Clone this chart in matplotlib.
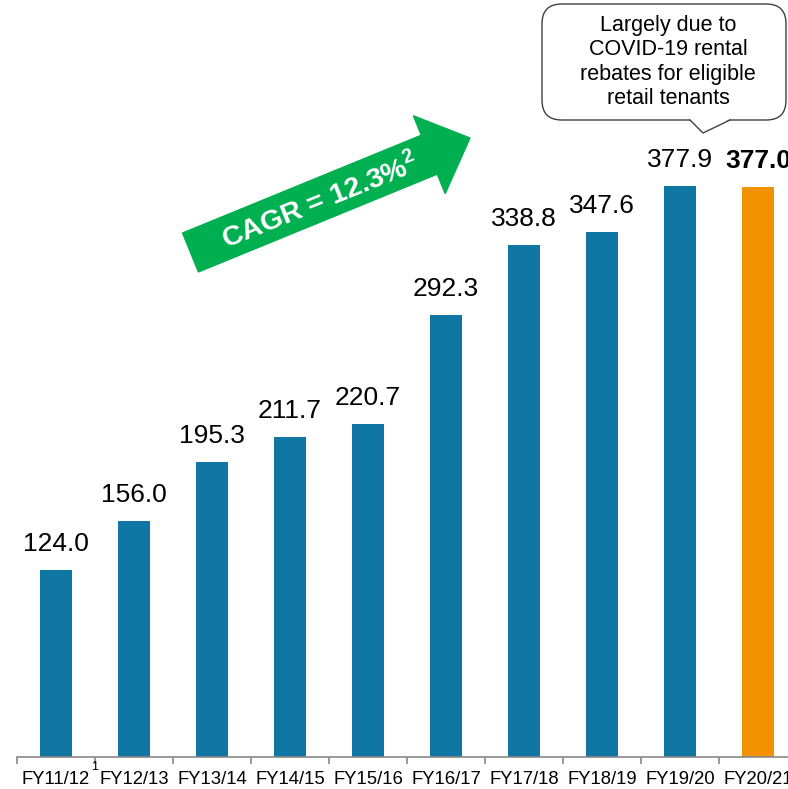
import matplotlib.pyplot as plt
from matplotlib.patches import FancyArrow, FancyBboxPatch, Polygon
from matplotlib.lines import Line2D

plt.rcParams['font.family'] = ['Liberation Sans', 'DejaVu Sans']
plt.rcParams['mathtext.fontset'] = 'custom'
plt.rcParams['mathtext.rm'] = 'Liberation Sans'
plt.rcParams['mathtext.bf'] = 'Liberation Sans:bold'

years = ['FY11/12', 'FY12/13', 'FY13/14', 'FY14/15', 'FY15/16',
         'FY16/17', 'FY17/18', 'FY18/19', 'FY19/20', 'FY20/21']
revenue = [124.0, 156.0, 195.3, 211.7, 220.7, 292.3, 338.8, 347.6, 377.9, 377.0]
blue = '#1077a4'
orange = '#f39200'
colors = [blue] * 9 + [orange]

W, H = 788, 789
fig = plt.figure(figsize=(W / 100, H / 100), dpi=100)
ax = fig.add_axes([17 / W, 32 / H, (W - 17) / W, 757 / H])

x = list(range(len(years)))
ax.bar(x, revenue, width=0.4, color=colors, zorder=2)

for i, v in enumerate(revenue):
    ax.annotate('%.1f' % v, (i, v), xytext=(0, 10), textcoords='offset points',
                ha='center', va='bottom', fontsize=19,
                fontweight='bold' if i == len(revenue) - 1 else 'normal',
                annotation_clip=False)

for s in ['top', 'right', 'left']:
    ax.spines[s].set_visible(False)
ax.spines['bottom'].set_color('#888888')
ax.spines['bottom'].set_linewidth(1.2)
ax.set_yticks([])
ax.set_xticks(x)
ax.set_xticklabels(years, fontsize=13.3)
ax.tick_params(axis='x', which='major', length=0, pad=10)
ax.set_xticks([i - 0.5 for i in range(len(years) + 1)], minor=True)
ax.tick_params(axis='x', which='minor', length=5, color='#888888', width=1.2)
ax.set_xlim(-0.5, -0.5 + (W - 17) / 78)
ax.set_ylim(0, 501)

# footnote marker
fig.text(95 / W, 1 - 767 / H, '1', fontsize=9, ha='center', va='center')

# CAGR arrow
arrow = FancyArrow(190.5 / W, 1 - 252.5 / H, 279.5 / W, 114.5 / H,
                   width=42 / W, head_width=84 / W, head_length=44 / W,
                   length_includes_head=True, color='#00b050',
                   transform=fig.transFigure, zorder=3)
fig.patches.append(arrow)
fig.text(320 / W, 1 - 201 / H, 'CAGR = 12.3%$^\\mathbf{2}$', color='white', fontsize=20.5,
         fontweight='bold', rotation=22, ha='center', va='center',
         rotation_mode='anchor', zorder=4)

# callout box
box = FancyBboxPatch((542 / W, 1 - 120 / H), (786 - 542) / W, 116 / H,
                     boxstyle='round,pad=0,rounding_size=0.025',
                     transform=fig.transFigure, facecolor='white',
                     edgecolor='#404040', linewidth=1.0, zorder=3)
fig.patches.append(box)
tail = Polygon([(690 / W, 1 - 119 / H), (703 / W, 1 - 133 / H), (730 / W, 1 - 119 / H)],
               closed=True, transform=fig.transFigure, facecolor='white',
               edgecolor='none', zorder=4)
fig.patches.append(tail)
fig.lines.append(Line2D([690 / W, 703 / W, 730 / W], [1 - 120 / H, 1 - 133 / H, 1 - 120 / H],
                        transform=fig.transFigure, color='#404040', linewidth=1.0, zorder=5))
fig.text(668 / W, 1 - 62 / H,
         'Largely due to\nCOVID-19 rental\nrebates for eligible\nretail tenants',
         fontsize=15.5, ha='center', va='center', linespacing=1.2, zorder=6)

fig.savefig('out.png', dpi=100)
